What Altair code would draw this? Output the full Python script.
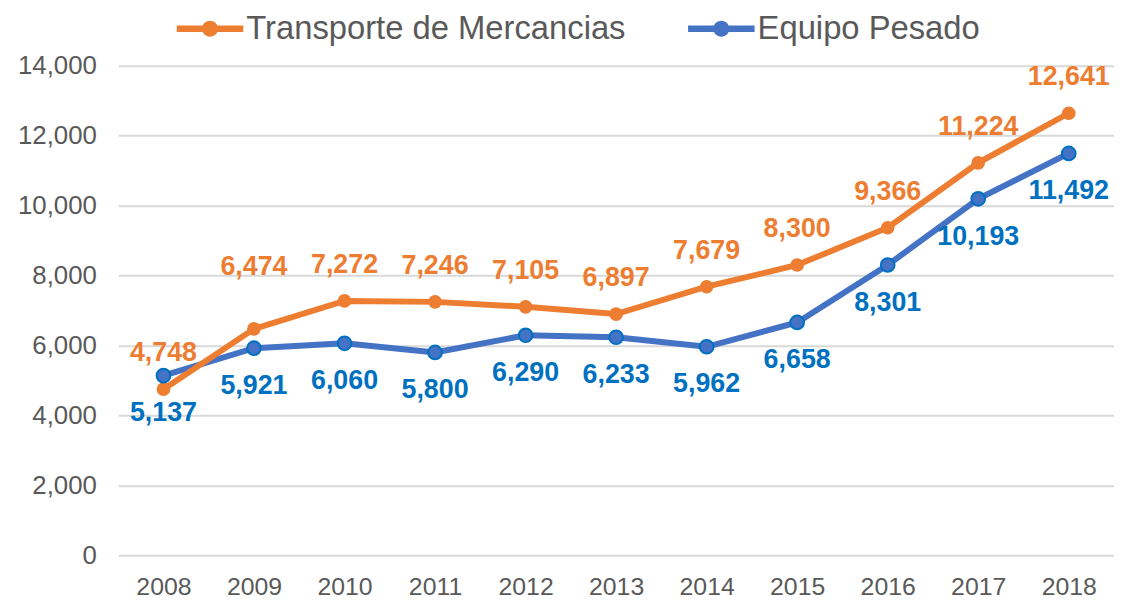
import altair as alt
import pandas as pd

years = ["2008", "2009", "2010", "2011", "2012", "2013", "2014", "2015", "2016", "2017", "2018"]
transporte = [4748, 6474, 7272, 7246, 7105, 6897, 7679, 8300, 9366, 11224, 12641]
equipo = [5137, 5921, 6060, 5800, 6290, 6233, 5962, 6658, 8301, 10193, 11492]
series_names = ["Transporte de Mercancias", "Equipo Pesado"]
colors = ["#ED7D31", "#4472C4"]
label_colors = ["#ED7D31", "#0070C0"]

rows = []
for y, t, e in zip(years, transporte, equipo):
    rows.append({"year": y, "series": series_names[0], "value": t})
    rows.append({"year": y, "series": series_names[1], "value": e})
df = pd.DataFrame(rows)

FONT = "Liberation Sans"
legend_path = ("M-1,-0.1 L1,-0.1 L1,0.1 L-1,0.1 Z "
               "M0.24,0 A0.24,0.24 0 1,1 -0.24,0 A0.24,0.24 0 1,1 0.24,0 Z")

x = alt.X("year:N", sort=years, title=None,
          scale=alt.Scale(type="point", padding=0.5),
          axis=alt.Axis(labelAngle=0, ticks=False, domain=False, grid=False,
                        labelFont=FONT, labelFontSize=25, labelColor="#595959",
                        labelPadding=20))
y = alt.Y("value:Q", title=None,
          scale=alt.Scale(domain=[0, 14000], nice=False),
          axis=alt.Axis(values=list(range(0, 14001, 2000)), format=",d",
                        ticks=False, domain=False, grid=True,
                        gridColor="#D9D9D9", gridWidth=2,
                        labelFont=FONT, labelFontSize=26, labelColor="#595959",
                        labelPadding=22))

base = alt.Chart(df).encode(x=x, y=y)

line_blue = base.transform_filter(alt.datum.series == series_names[1]).mark_line(
    strokeWidth=6, color=colors[1])
line_orange = base.transform_filter(alt.datum.series == series_names[0]).mark_line(
    strokeWidth=6, color=colors[0])

points = base.mark_point(filled=True, size=190, opacity=1, shape="circle",
                         strokeWidth=0).encode(
    color=alt.Color("series:N",
                    scale=alt.Scale(domain=series_names, range=colors),
                    legend=alt.Legend(title=None, orient="none", direction="horizontal",
                                      legendX=59, legendY=-71,
                                      symbolType=legend_path, symbolSize=4489,
                                      symbolStrokeWidth=0, symbolOpacity=1,
                                      labelFont=FONT, labelFontSize=33,
                                      labelColor="#595959", labelOffset=3,
                                      columnPadding=62, labelLimit=600)),
    order=alt.Order("series:N", sort="descending"))

blue_ring = base.transform_filter(alt.datum.series == series_names[1]).mark_point(
    filled=False, size=190, shape="circle", stroke="#0070C0", strokeWidth=2, opacity=1)

lab_orange = base.transform_filter(
    (alt.datum.series == series_names[0]) & (alt.datum.year != "2009")
).mark_text(dy=-36, font=FONT, fontSize=27, fontWeight="bold",
            color=label_colors[0]).encode(text=alt.Text("value:Q", format=",d"))
lab_orange_2009 = base.transform_filter(
    (alt.datum.series == series_names[0]) & (alt.datum.year == "2009")
).mark_text(dy=-62, font=FONT, fontSize=27, fontWeight="bold",
            color=label_colors[0]).encode(text=alt.Text("value:Q", format=",d"))
lab_blue = base.transform_filter(alt.datum.series == series_names[1]).mark_text(
    dy=38, font=FONT, fontSize=27, fontWeight="bold",
    color=label_colors[1]).encode(text=alt.Text("value:Q", format=",d"))

chart = alt.layer(line_blue, line_orange, points, blue_ring,
                  lab_orange, lab_orange_2009, lab_blue).properties(
    width=1003, height=493,
    autosize=alt.AutoSizeParams(type="none"),
    padding={"left": 111, "top": 56, "right": 0, "bottom": 46},
).configure_view(stroke=None)

chart.save("out.html", embed_options={"renderer": "svg", "actions": False})
